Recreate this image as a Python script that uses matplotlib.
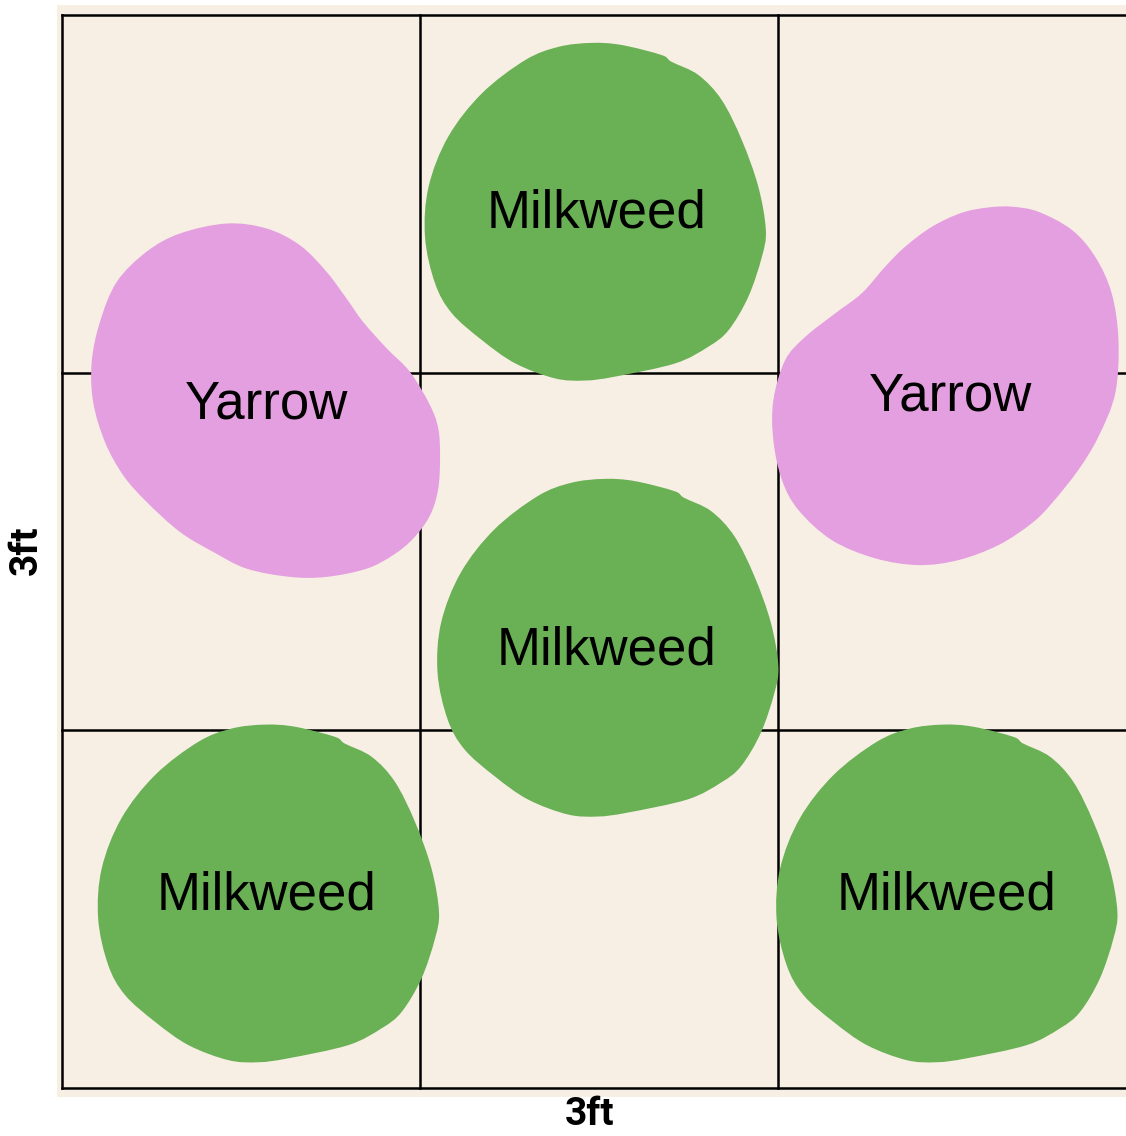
import numpy as np
import matplotlib
matplotlib.use("Agg")
import matplotlib.pyplot as plt
from matplotlib.path import Path
from matplotlib.patches import PathPatch

# ---------------- data ----------------
plant_names = ["Milkweed", "Milkweed", "Milkweed", "Milkweed", "Yarrow", "Yarrow"]
plant_kind = ["milkweed", "milkweed", "milkweed", "milkweed", "yarrow_l", "yarrow_r"]
center_x = [1.490, 1.525, 0.577, 2.472, 0.569, 2.469]   # ft
center_y = [2.450, 1.231, 0.544, 0.544, 1.923, 1.963]   # ft
label_x = [1.493, 1.521, 0.571, 2.471, 0.571, 2.482]    # ft (text centre)
label_y = [2.406, 1.185, 0.498, 0.498, 1.873, 1.893]    # ft (baseline)

milkweed_dx = [-0.010, 0.074, 0.185, 0.213, 0.288, 0.353, 0.409, 0.455, 0.476, 0.465,
               0.427, 0.372, 0.316, 0.223, 0.055, -0.029, -0.113, -0.224, -0.317, -0.401,
               -0.448, -0.476, -0.466, -0.411, -0.317, -0.196, -0.103]
milkweed_dy = [0.472, 0.466, 0.438, 0.419, 0.382, 0.312, 0.200, 0.070, -0.051, -0.126,
               -0.238, -0.331, -0.377, -0.424, -0.461, -0.472, -0.466, -0.424, -0.359, -0.284,
               -0.200, -0.070, 0.070, 0.210, 0.331, 0.424, 0.461]

yarrow_l_dx = [-0.109, 0.003, 0.096, 0.170, 0.226, 0.272, 0.338, 0.403, 0.459, 0.482,
               0.487, 0.482, 0.459, 0.412, 0.356, 0.282, 0.170, 0.068, -0.053, -0.147,
               -0.240, -0.333, -0.398, -0.449, -0.482, -0.486, -0.463, -0.416, -0.333, -0.240]
yarrow_l_dy = [0.494, 0.480, 0.433, 0.359, 0.284, 0.219, 0.145, 0.079, -0.014, -0.079,
               -0.154, -0.247, -0.322, -0.387, -0.433, -0.471, -0.494, -0.494, -0.471, -0.424,
               -0.368, -0.284, -0.210, -0.117, -0.005, 0.107, 0.219, 0.331, 0.415, 0.466]

yarrow_r_dx = [0.184, 0.258, 0.352, 0.417, 0.463, 0.482, 0.473, 0.426, 0.370, 0.296,
               0.240, 0.147, 0.035, -0.077, -0.198, -0.319, -0.412, -0.458, -0.482, -0.482,
               -0.449, -0.393, -0.309, -0.235, -0.170, -0.114, -0.039, 0.044, 0.119]
yarrow_r_dy = [0.501, 0.487, 0.436, 0.361, 0.259, 0.128, -0.021, -0.142, -0.235, -0.328,
               -0.384, -0.445, -0.487, -0.501, -0.482, -0.431, -0.347, -0.263, -0.152, -0.040,
               0.072, 0.137, 0.203, 0.259, 0.333, 0.389, 0.445, 0.484, 0.499]

grid_ticks = [0, 1, 2, 3]
axis_label = "3ft"

shapes = {
    "milkweed": (milkweed_dx, milkweed_dy),
    "yarrow_l": (yarrow_l_dx, yarrow_l_dy),
    "yarrow_r": (yarrow_r_dx, yarrow_r_dy),
}
colors = {"milkweed": "#6AB055", "yarrow_l": "#E49FE0", "yarrow_r": "#E49FE0"}
BG = "#F7EFE4"


def smooth_closed_path(xs, ys):
    """Closed Catmull-Rom outline expressed as cubic Bezier segments."""
    pts = np.column_stack([xs, ys])
    n = len(pts)
    verts = [pts[0]]
    codes = [Path.MOVETO]
    for i in range(n):
        p0 = pts[(i - 1) % n]
        p1 = pts[i]
        p2 = pts[(i + 1) % n]
        p3 = pts[(i + 2) % n]
        c1 = p1 + (p2 - p0) / 6.0
        c2 = p2 - (p3 - p1) / 6.0
        verts += [c1, c2, p2]
        codes += [Path.CURVE4, Path.CURVE4, Path.CURVE4]
    verts.append(pts[0])
    codes.append(Path.CLOSEPOLY)
    return Path(np.array(verts), codes)


W, H = 1126, 1136
fig = plt.figure(figsize=(W / 100, H / 100), dpi=100)
fig.patch.set_facecolor("white")

ax = fig.add_axes([57 / W, (H - 1097) / H, 1084 / W, (1097 - 5) / H])
ax.set_facecolor(BG)
ax.set_xlim(-5 / 358, 3 + 5 / 358)
ax.set_ylim(-9 / 357.7, 3 + 10 / 357.7)
ax.set_xticks([])
ax.set_yticks([])
for s in ax.spines.values():
    s.set_visible(False)

# grid
for t in grid_ticks:
    ax.plot([t, t], [grid_ticks[0], grid_ticks[-1]], color="black", lw=1.8,
            solid_capstyle="projecting", zorder=1)
    ax.plot([grid_ticks[0], grid_ticks[-1]], [t, t], color="black", lw=1.8,
            solid_capstyle="projecting", zorder=1)

# plants
for name, kind, cx, cy, lx, ly in zip(plant_names, plant_kind, center_x, center_y,
                                     label_x, label_y):
    dx, dy = shapes[kind]
    path = smooth_closed_path(np.array(dx) + cx, np.array(dy) + cy)
    ax.add_patch(PathPatch(path, facecolor=colors[kind], edgecolor="none", zorder=2))
    ax.text(lx, ly, name, ha="center", va="baseline", fontsize=38,
            family=["Liberation Sans", "DejaVu Sans"], color="black", zorder=3)

# axis labels
fig.text(590 / W, 3 / H, axis_label, ha="center", va="bottom",
         fontsize=28, fontweight="bold", family=["Roboto", "DejaVu Sans"])
fig.text(26 / W, (H - 550) / H, axis_label, ha="center", va="center", rotation=90,
         fontsize=28, fontweight="bold", family=["Roboto", "DejaVu Sans"])

fig.savefig("out.png", dpi=100, facecolor="white")
